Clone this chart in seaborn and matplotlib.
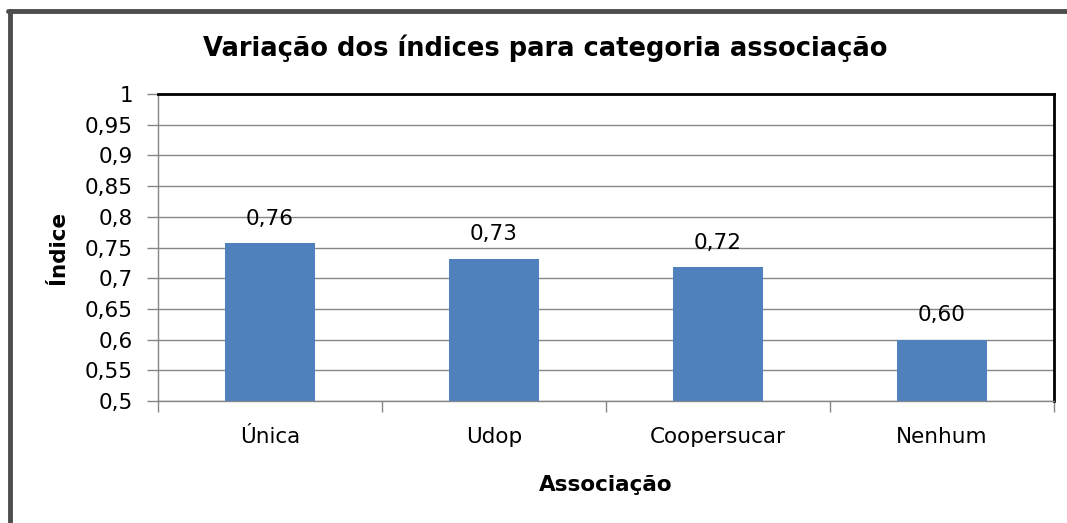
import matplotlib
matplotlib.use("Agg")
import matplotlib.pyplot as plt
import seaborn as sns
import pandas as pd
from matplotlib.lines import Line2D

categories = ["Única", "Udop", "Coopersucar", "Nenhum"]
values = [0.757, 0.732, 0.718, 0.600]
value_labels = ["0,76", "0,73", "0,72", "0,60"]
yticks = [0.5, 0.55, 0.6, 0.65, 0.7, 0.75, 0.8, 0.85, 0.9, 0.95, 1.0]
ytick_labels = ["0,5", "0,55", "0,6", "0,65", "0,7", "0,75", "0,8", "0,85", "0,9", "0,95", "1"]

sns.set_style("white")
plt.rcParams["font.family"] = ["DejaVu Sans"]
plt.rcParams["text.color"] = "black"
plt.rcParams["axes.labelcolor"] = "black"
plt.rcParams["xtick.color"] = "black"
plt.rcParams["ytick.color"] = "black"

df = pd.DataFrame({"Associação": categories, "Índice": values})

fig = plt.figure(figsize=(10.67, 5.23), dpi=100)
ax = fig.add_axes([158/1067, 122/523, (1054-158)/1067, (401-94)/523])

sns.barplot(data=df, x="Associação", y="Índice", color="#4F81BD", width=0.4,
            saturation=1, ax=ax, zorder=3, edgecolor="none", linewidth=0)

ax.set_ylim(0.5, 1.0)
ax.set_xlim(-0.5, 3.5)
ax.set_yticks(yticks)
ax.set_yticklabels(ytick_labels, fontsize=15.5)
ax.tick_params(axis="y", left=True, direction="out", length=8, color="#868686",
               labelcolor="black", width=1, pad=10)
ax.set_xticks(range(len(categories)))
ax.set_xticklabels(categories, fontsize=15.5)
ax.set_xticks([-0.5, 0.5, 1.5, 2.5, 3.5], minor=True)
ax.tick_params(axis="x", which="major", bottom=True, length=0, pad=19, labelcolor="black")
ax.tick_params(axis="x", which="minor", bottom=True, direction="out", length=8,
               color="#868686", width=1)

ax.yaxis.grid(True, color="#868686", linewidth=1, zorder=0)
ax.set_axisbelow(True)
for s in ["left", "bottom"]:
    ax.spines[s].set_color("#868686")
    ax.spines[s].set_linewidth(1)
for s in ["top", "right"]:
    ax.spines[s].set_color("black")
    ax.spines[s].set_linewidth(2)

for i, (v, lab) in enumerate(zip(values, value_labels)):
    ax.text(i, v + 0.040, lab, ha="center", va="center", fontsize=15.5, color="black")

ax.set_xlabel("Associação", fontsize=15.5, fontweight="bold", labelpad=20, color="black")
ax.set_ylabel("Índice", fontsize=15.5, fontweight="bold", labelpad=12, color="black")

fig.text(545/1067, 1 - 48/523, "Variação dos índices para categoria associação",
         ha="center", va="center", fontsize=18.5, fontweight="bold", color="black")

# outer frame (left and top)
fig.add_artist(Line2D([10/1067, 10/1067], [0, 1 - 11/523], transform=fig.transFigure,
                      color="#4D4D4D", linewidth=3.5))
fig.add_artist(Line2D([8/1067, 1], [1 - 11/523, 1 - 11/523], transform=fig.transFigure,
                      color="#4D4D4D", linewidth=3.5))

fig.savefig("out.png", dpi=100)
